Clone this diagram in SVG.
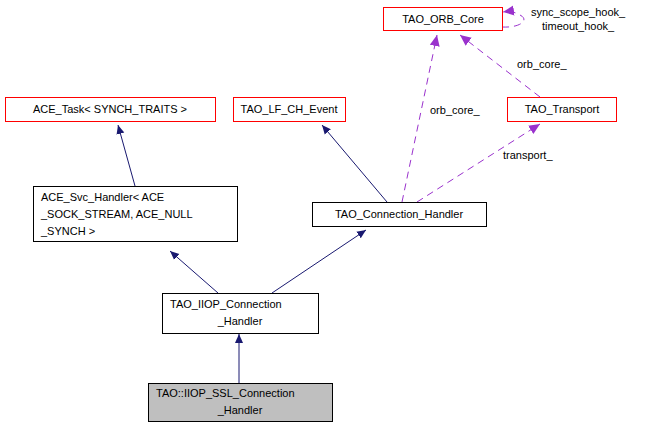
<svg xmlns="http://www.w3.org/2000/svg" width="649" height="429" viewBox="0 0 649 429">
<style>
text{font-family:"Liberation Sans",Arial,sans-serif;font-size:11px;fill:#000}
.r{fill:#fff;stroke:#ff0000}
.b{fill:#fff;stroke:#000}
.s{stroke:#191970;fill:none}
.d{stroke:#9a32cd;fill:none;stroke-dasharray:7,5}
</style>
<defs>
<marker id="ab" markerWidth="10" markerHeight="10" refX="9" refY="5" orient="auto" markerUnits="userSpaceOnUse"><path d="M0,1 L9,5 L0,9z" fill="#191970"/></marker>
<marker id="ap" markerWidth="12" markerHeight="12" refX="11" refY="6" orient="auto" markerUnits="userSpaceOnUse"><path d="M0,1 L11,6 L0,11z" fill="#9a32cd"/></marker>
</defs>
<rect width="649" height="429" fill="#fff"/>
<g id="connectors">
<path class="s" d="M239,383 L239,334" marker-end="url(#ab)"/>
<path class="s" d="M218,293 L170,251" marker-end="url(#ab)"/>
<path class="s" d="M272,293 L366,230" marker-end="url(#ab)"/>
<path class="s" d="M135,186 L118,125" marker-end="url(#ab)"/>
<path class="s" d="M387,202 L322,125" marker-end="url(#ab)"/>
<path class="d" d="M402,202 L437,35" marker-end="url(#ap)"/>
<path class="d" d="M417,202 L540,124" marker-end="url(#ap)"/>
<path class="d" d="M540,97 L460,35" marker-end="url(#ap)"/>
<path class="d" d="M502,27 C520,28 530,20 520,15 C515,12 510,11 503,12" marker-end="url(#ap)"/>
<text x="531" y="16">sync_scope_hook_</text>
<text x="542" y="30">timeout_hook_</text>
<text x="430" y="114">orb_core_</text>
<text x="517" y="68">orb_core_</text>
<text x="503" y="159">transport_</text>
</g>
<g id="n1"><rect class="r" x="383.5" y="7.5" width="119" height="23"/><text x="443" y="23" text-anchor="middle">TAO_ORB_Core</text></g>
<g id="n2"><rect class="r" x="507.5" y="97.5" width="109" height="24"/><text x="562" y="113" text-anchor="middle">TAO_Transport</text></g>
<g id="n3"><rect class="r" x="5.5" y="97.5" width="210" height="24"/><text x="110" y="113" text-anchor="middle">ACE_Task&lt; SYNCH_TRAITS &gt;</text></g>
<g id="n4"><rect class="r" x="233.5" y="97.5" width="112" height="24"/><text x="289" y="113" text-anchor="middle">TAO_LF_CH_Event</text></g>
<g id="n5"><rect class="b" x="312.5" y="202.5" width="174" height="24"/><text x="399" y="218" text-anchor="middle">TAO_Connection_Handler</text></g>
<g id="n6"><rect class="b" x="33.5" y="186.5" width="204" height="55"/><text x="41" y="201">ACE_Svc_Handler&lt; ACE</text><text x="41" y="218">_SOCK_STREAM, ACE_NULL</text><text x="41" y="235">_SYNCH &gt;</text></g>
<g id="n7"><rect class="b" x="162.5" y="293.5" width="156" height="40"/><text x="170" y="308">TAO_IIOP_Connection</text><text x="240" y="325" text-anchor="middle">_Handler</text></g>
<g id="n8"><rect x="148.5" y="383.5" width="184" height="38" fill="#bfbfbf" stroke="#000"/><text x="156" y="397">TAO::IIOP_SSL_Connection</text><text x="240" y="414" text-anchor="middle">_Handler</text></g>
</svg>
